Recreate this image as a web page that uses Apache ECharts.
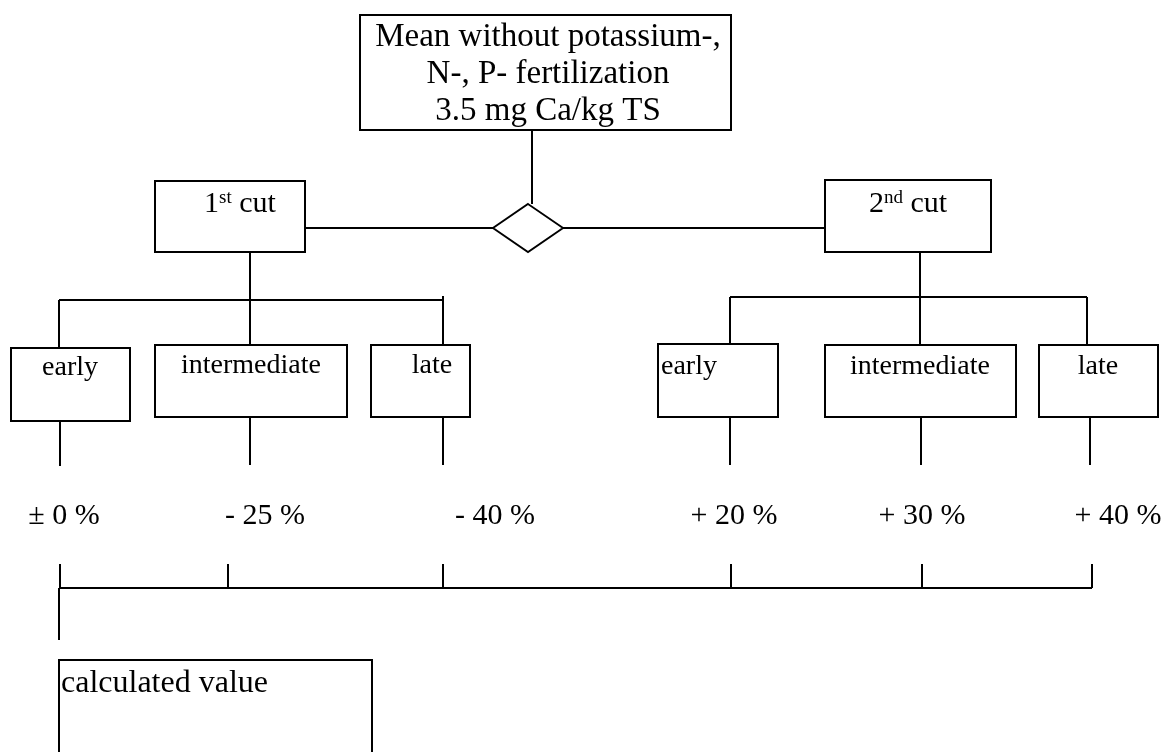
<!DOCTYPE html>
<html><head><meta charset="utf-8">
<script src="https://cdn.jsdelivr.net/npm/echarts@6/dist/echarts.min.js"></script>
<style>html,body{margin:0;padding:0;background:#fff}#c{width:1168px;height:752px}</style>
</head><body><div id="c"></div>
<script>
// ---------- data (text content of the diagram) ----------
const rootLines = ['Mean without potassium-,', 'N-, P- fertilization', '3.5 mg Ca/kg TS'];
const cutNames = ['1{sup|st} cut', '2{sup|nd} cut'];
const stageNames = ['early', 'intermediate', 'late'];
const changeLabels = ['± 0 %', '- 25 %', '- 40 %', '+ 20 %', '+ 30 %', '+ 40 %'];
const resultLabel = 'calculated value';

// ---------- layout (diagram units on hidden value axes) ----------
const L = {
  root: [360, 15, 731, 130],
  rootText: [548, 74],
  cuts: [[155, 181, 305, 252], [825, 180, 991, 252]],
  cutText: [[240, 204], [908, 204]],
  stages: [
    [[11, 348, 130, 421], [155, 345, 347, 417], [371, 345, 470, 417]],
    [[658, 344, 778, 417], [825, 345, 1016, 417], [1039, 345, 1158, 417]]
  ],
  stageText: [
    [[70, 368, 'center'], [251, 366, 'center'], [432, 366, 'center']],
    [[661, 367, 'left'], [920, 367, 'center'], [1098, 367, 'center']]
  ],
  changeText: [[64, 516], [265, 516], [495, 516], [734, 516], [922, 516], [1118, 516]],
  result: [59, 660, 372, 790],
  resultText: [61, 684],
  diamond: [528, 228]
};
const connectors = [
  [[532, 130], [532, 204]],
  [[305, 228], [493, 228]],
  [[563, 228], [825, 228]],
  [[250, 252], [250, 300]],
  [[59, 300], [443, 300]],
  [[59, 300], [59, 348]],
  [[250, 300], [250, 345]],
  [[443, 296], [443, 345]],
  [[920, 252], [920, 297]],
  [[730, 297], [1087, 297]],
  [[730, 297], [730, 344]],
  [[920, 297], [920, 345]],
  [[1087, 297], [1087, 345]],
  [[60, 421], [60, 466]],
  [[250, 417], [250, 465]],
  [[443, 417], [443, 465]],
  [[730, 417], [730, 465]],
  [[921, 417], [921, 465]],
  [[1090, 417], [1090, 465]],
  [[59, 588], [1092, 588]],
  [[60, 564], [60, 588]],
  [[228, 564], [228, 588]],
  [[443, 564], [443, 588]],
  [[731, 564], [731, 588]],
  [[922, 564], [922, 588]],
  [[1092, 564], [1092, 588]],
  [[59, 588], [59, 640]]
];

const FONT = 'Liberation Serif';

// boxes
const boxData = [L.root].concat(L.cuts, L.stages[0], L.stages[1], [L.result]);

// texts
const texts = [];
texts.push({x: L.rootText[0], y: L.rootText[1], text: rootLines.join('\n'), size: 33, lh: 37, align: 'center'});
cutNames.forEach((n, i) => texts.push({x: L.cutText[i][0], y: L.cutText[i][1], text: n, size: 30, lh: 30, align: 'center', rich: true}));
[0, 1].forEach(c => stageNames.forEach((n, i) => {
  const t = L.stageText[c][i];
  texts.push({x: t[0], y: t[1], text: n, size: 28, lh: 30, align: t[2]});
}));
changeLabels.forEach((n, i) => texts.push({x: L.changeText[i][0], y: L.changeText[i][1], text: n, size: 30, lh: 30, align: 'center'}));
texts.push({x: L.resultText[0], y: L.resultText[1], text: resultLabel, size: 32, lh: 32, align: 'left'});

const chart = echarts.init(document.getElementById('c'), null, {renderer: 'canvas'});
chart.setOption({
  animation: false,
  backgroundColor: '#fff',
  grid: {left: 0, right: 0, top: 0, bottom: 0},
  xAxis: {type: 'value', min: 0, max: 1168, show: false},
  yAxis: {type: 'value', min: 0, max: 752, inverse: true, show: false},
  series: [
    {
      type: 'lines', coordinateSystem: 'cartesian2d', z: 1, silent: true,
      lineStyle: {color: '#000', width: 2, opacity: 1},
      data: connectors.map(c => ({coords: c}))
    },
    {
      type: 'custom', z: 2, silent: true,
      data: boxData,
      renderItem: function (params, api) {
        const p0 = api.coord([api.value(0), api.value(1)]);
        const p1 = api.coord([api.value(2), api.value(3)]);
        return {
          type: 'rect',
          shape: {x: Math.min(p0[0], p1[0]), y: Math.min(p0[1], p1[1]), width: Math.abs(p1[0] - p0[0]), height: Math.abs(p1[1] - p0[1])},
          style: {fill: '#fff', stroke: '#000', lineWidth: 2}
        };
      }
    },
    {
      type: 'scatter', z: 3, silent: true,
      symbol: 'diamond', symbolSize: [70, 48],
      itemStyle: {color: '#fff', borderColor: '#000', borderWidth: 2, opacity: 1},
      data: [L.diamond]
    },
    {
      type: 'custom', z: 4, silent: true,
      data: texts.map(t => [t.x, t.y]),
      renderItem: function (params, api) {
        const t = texts[params.dataIndex];
        const p = api.coord([api.value(0), api.value(1)]);
        const style = {
          text: t.text, x: p[0], y: p[1], fill: '#000',
          fontFamily: FONT, fontSize: t.size, lineHeight: t.lh,
          align: t.align, verticalAlign: 'middle'
        };
        if (t.rich) {
          style.rich = {sup: {fontFamily: FONT, fontSize: 19, lineHeight: 18, verticalAlign: 'top', fill: '#000'}};
        }
        return {type: 'text', style: style};
      }
    }
  ]
});
</script>
</body></html>
